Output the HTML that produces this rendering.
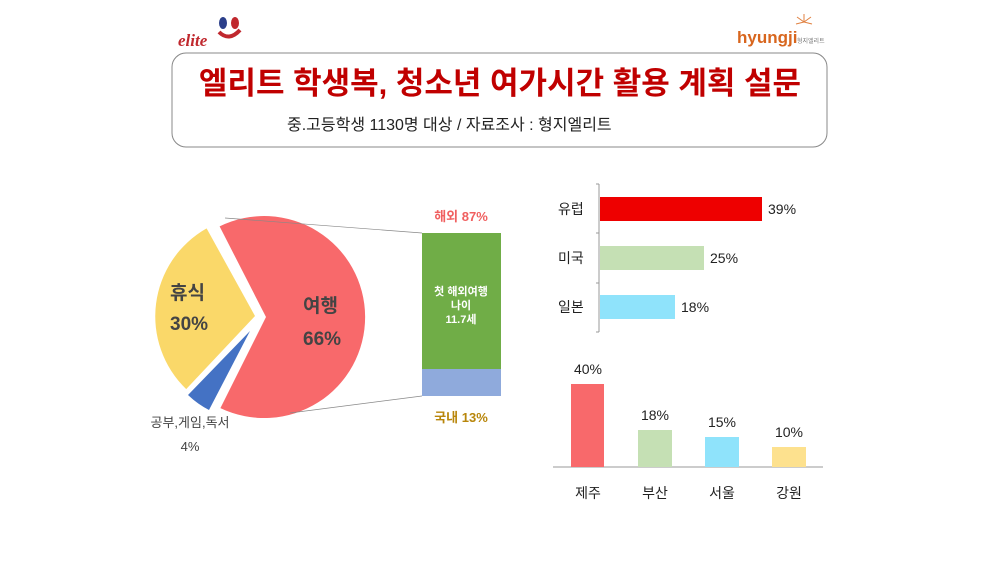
<!DOCTYPE html>
<html><head><meta charset="utf-8"><style>
body{margin:0;width:1000px;height:562px;background:#fff;overflow:hidden;font-family:"Liberation Sans","Noto Sans CJK KR",sans-serif}
</style></head><body>
<svg width="1000" height="562" xmlns="http://www.w3.org/2000/svg" font-family="Liberation Sans, Noto Sans CJK KR, sans-serif">
<!-- logos -->
<text x="178" y="46" font-size="17" fill="#c0282e" font-weight="bold" font-style="italic" font-family="Liberation Serif, serif">elite</text>
<ellipse cx="223" cy="23" rx="4" ry="6" fill="#2b3f8a"/><ellipse cx="235" cy="23" rx="4" ry="6" fill="#c0282e"/>
<path d="M219 32 Q229 42 240 30" stroke="#c0282e" stroke-width="4" fill="none"/>
<text x="737" y="43" font-size="17" fill="#d8661e" font-weight="bold">hyungji</text>
<text x="797" y="43" font-size="6" fill="#777">형지엘리트</text>
<g stroke="#e08040" stroke-width="1"><line x1="804" y1="22" x2="804" y2="14"/><line x1="804" y1="22" x2="811" y2="17"/><line x1="804" y1="22" x2="797" y2="17"/><line x1="804" y1="22" x2="812" y2="24"/><line x1="804" y1="22" x2="796" y2="24"/></g>
<!-- title box -->
<rect x="172" y="53" width="655" height="94" rx="14" fill="#fff" stroke="#888" stroke-width="1"/>
<text x="500" y="94" font-size="31" font-weight="bold" fill="#c00000" text-anchor="middle">엘리트 학생복, 청소년 여가시간 활용 계획 설문</text>
<text x="287" y="130" font-size="16" fill="#222">중.고등학생 1130명 대상 /  자료조사 : 형지엘리트</text>
<!-- pie -->
<path d="M266 317 L219.6 226.4 A101 101 0 1 1 220.4 408.1 Z" fill="#f8696b"/>
<path d="M250 331 L209 410 A90 90 0 0 1 188 395 Z" fill="#4472c4"/>
<path d="M255 316 L186.2 389.1 A101 101 0 0 1 206.6 228.4 Z" fill="#fad869"/>
<text x="303" y="312" font-size="19" fill="#444" font-weight="bold">여행</text>
<text x="303" y="345" font-size="19" fill="#444" font-weight="bold">66%</text>
<text x="170" y="299" font-size="19" fill="#444" font-weight="bold">휴식</text>
<text x="170" y="330" font-size="19" fill="#444" font-weight="bold">30%</text>
<text x="190" y="427" font-size="13" fill="#444" text-anchor="middle">공부,게임,독서</text>
<text x="190" y="451" font-size="13" fill="#444" text-anchor="middle">4%</text>
<line x1="225" y1="218" x2="422" y2="233" stroke="#888" stroke-width="0.7"/>
<line x1="290" y1="413" x2="422" y2="396" stroke="#888" stroke-width="0.7"/>
<!-- stacked -->
<rect x="422" y="233" width="79" height="136" fill="#70ad47"/>
<rect x="422" y="369" width="79" height="27" fill="#8faadc"/>
<text x="461" y="221" font-size="13" font-weight="bold" fill="#f06060" text-anchor="middle">해외 87%</text>
<text x="461" y="422" font-size="13" font-weight="bold" fill="#b8860b" text-anchor="middle">국내 13%</text>
<text x="461" y="295" font-size="11" font-weight="bold" fill="#fff" text-anchor="middle">첫 해외여행</text>
<text x="461" y="309" font-size="11" font-weight="bold" fill="#fff" text-anchor="middle">나이</text>
<text x="461" y="323" font-size="11" font-weight="bold" fill="#fff" text-anchor="middle">11.7세</text>
<!-- hbar -->
<line x1="599" y1="184" x2="599" y2="332" stroke="#999"/>
<g stroke="#999"><line x1="596" y1="184" x2="599" y2="184"/><line x1="596" y1="233" x2="599" y2="233"/><line x1="596" y1="283" x2="599" y2="283"/><line x1="596" y1="332" x2="599" y2="332"/></g>
<rect x="600" y="197" width="162" height="24" fill="#ee0000"/>
<rect x="600" y="246" width="104" height="24" fill="#c5e0b4"/>
<rect x="600" y="295" width="75" height="24" fill="#8fe3fb"/>
<g font-size="14" fill="#222">
<text x="558" y="214">유럽</text><text x="558" y="263">미국</text><text x="558" y="312">일본</text>
<text x="768" y="214">39%</text><text x="710" y="263">25%</text><text x="681" y="312">18%</text>
</g>
<!-- column -->
<line x1="553" y1="467" x2="823" y2="467" stroke="#999"/>
<rect x="571" y="384" width="33" height="83" fill="#f8696b"/>
<rect x="638" y="430" width="34" height="37" fill="#c5e0b4"/>
<rect x="705" y="437" width="34" height="30" fill="#8fe3fb"/>
<rect x="772" y="447" width="34" height="20" fill="#fde18e"/>
<g font-size="14" fill="#222" text-anchor="middle">
<text x="588" y="374">40%</text><text x="655" y="420">18%</text><text x="722" y="427">15%</text><text x="789" y="437">10%</text>
<text x="588" y="498">제주</text><text x="655" y="498">부산</text><text x="722" y="498">서울</text><text x="789" y="498">강원</text>
</g>
</svg>
</body></html>
